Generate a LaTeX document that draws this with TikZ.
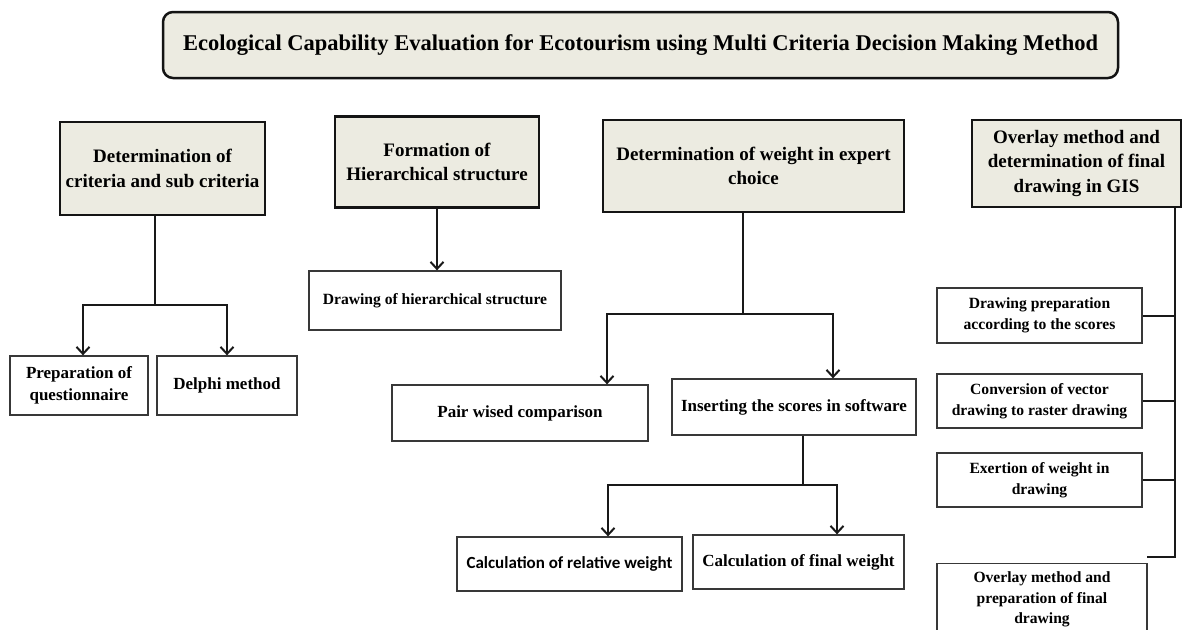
\documentclass[tikz,border=0pt]{standalone}
\usepackage{fontspec}
\setmainfont{Liberation Serif}
\newfontfamily\calib{Carlito}
\usetikzlibrary{arrows.meta,calc}
\definecolor{hdrfill}{HTML}{ECEBE1}
\begin{document}
\begin{tikzpicture}[x=1pt,y=-1pt,
  hdr/.style={draw=black!92, line width=2.3pt, fill=hdrfill, align=center, inner sep=0pt,
    font=\bfseries\fontsize{19}{24.5}\selectfont},
  titlebox/.style={hdr, line width=2.5pt, rounded corners=10pt, font=\bfseries\fontsize{22.5}{26}\selectfont},
  sub/.style={draw=black!78, line width=1.3pt, fill=white, align=center, inner sep=0pt,
    font=\bfseries\fontsize{17}{22}\selectfont},
  subs/.style={sub, font=\bfseries\fontsize{15.6}{21}\selectfont},
  conn/.style={line width=2pt, draw=black!90},
  arr/.style={conn, -{Straight Barb[length=7pt,width=13pt]}}]
\useasboundingbox (0,0) rectangle (1182,629);
\fill[white] (0,0) rectangle (1182,629);

% title
\node[titlebox, minimum width=955pt, minimum height=66pt] (T) at (640.5,45)
  {Ecological Capability Evaluation for Ecotourism using Multi Criteria Decision Making Method};

% headers
\node[hdr, minimum width=205pt, minimum height=93pt] (H1) at (162.5,168.5)
  {Determination of\\criteria and sub criteria};
\node[hdr, minimum width=204pt, minimum height=91pt] (H2) at (437,162)
  {Formation of\\Hierarchical structure};
\node[hdr, minimum width=301pt, minimum height=92pt] (H3) at (753.5,166)
  {Determination of weight in expert\\choice};
\node[hdr, minimum width=209pt, minimum height=87pt] (H4) at (1076.5,163.5)
  {Overlay method and\\determination of final\\drawing in GIS};

% column 1
\node[sub, minimum width=138pt, minimum height=59pt] (Q) at (79,385.5)
  {Preparation of\\questionnaire};
\node[sub, minimum width=140pt, minimum height=59pt] (D) at (227,385.5)
  {Delphi method};
\coordinate (j1) at (155,305);
\draw[conn] (H1.south -| j1) -- (j1);
\draw[arr] (j1) -| ($(Q.north)+(4,0)$);
\draw[arr] (j1) -| (D.north);

% column 2
\node[subs, minimum width=252pt, minimum height=59pt] (Dh) at (435,300.5)
  {Drawing of hierarchical structure};
\draw[arr] (H2.south) -- (H2.south |- Dh.north);

% column 3
\node[sub, minimum width=256pt, minimum height=56pt] (P) at (520,413)
  {Pair wised comparison};
\node[sub, minimum width=244pt, minimum height=56pt] (I) at (794,407)
  {Inserting the scores in software};
\coordinate (j3) at (743,314);
\draw[conn] (H3.south -| j3) -- (j3);
\draw[arr] (j3) -| ($(P.north)+(87,0)$);
\draw[arr] (j3) -| ($(I.north)+(39,0)$);

\node[sub, minimum width=225pt, minimum height=54pt, font=\calib\bfseries\fontsize{17}{20}\selectfont] (Rel) at (569.5,564)
  {Calculation of relative weight};
\node[sub, minimum width=211pt, minimum height=54pt] (Fin) at (798.5,562)
  {Calculation of final weight};
\coordinate (j4) at (803,485);
\draw[conn] (I.south -| j4) -- (j4);
\draw[arr] (j4) -| ($(Rel.north)+(38.5,0)$);
\draw[arr] (j4) -| ($(Fin.north)+(38.5,0)$);

% column 4
\node[subs, minimum width=205pt, minimum height=55pt] (R1) at (1039.5,315.5)
  {Drawing preparation\\according to the scores};
\node[subs, minimum width=205pt, minimum height=54pt] (R2) at (1039.5,401)
  {Conversion of vector\\drawing to raster drawing};
\node[subs, minimum width=205pt, minimum height=54pt] (R3) at (1039.5,480)
  {Exertion of weight in\\drawing};
\node[subs, minimum width=210pt, minimum height=72pt, anchor=north,
  font=\bfseries\fontsize{15.6}{20.5}\selectfont] (R4) at (1042,563)
  {Overlay method and\\preparation of final\\drawing};
\coordinate (rc) at (1175,557);
\coordinate (rend) at (1147,557);
\draw[conn] (H4.south -| rc) -- (rc) -- (rend);
\draw[conn] (R1.east) -- (R1.east -| rc);
\draw[conn] (R2.east) -- (R2.east -| rc);
\draw[conn] (R3.east) -- (R3.east -| rc);
\end{tikzpicture}
\end{document}
